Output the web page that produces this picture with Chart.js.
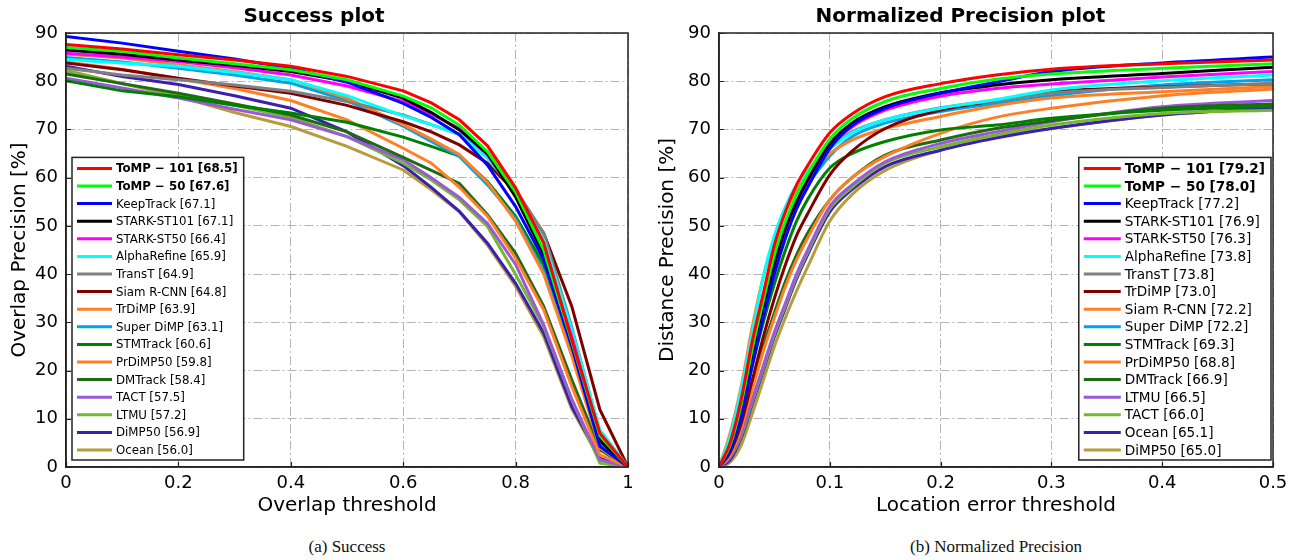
<!DOCTYPE html>
<html>
<head>
<meta charset="utf-8">
<script src="https://cdn.jsdelivr.net/npm/chart.js@4.4.1/dist/chart.umd.min.js"></script>
<style>
  body { margin:0; width:1297px; height:560px; background:#fff; position:relative; overflow:hidden; }
  .box { position:absolute; top:0; height:525px; }
  .cap { position:absolute; top:537px; font-family:"Liberation Serif","Times New Roman",serif; font-size:17px; color:#111; transform:translateX(-50%); white-space:nowrap; }
</style>
</head>
<body>
<div class="box" style="left:0;width:648px"><canvas id="succ"></canvas></div>
<div class="box" style="left:648px;width:649px"><canvas id="prec"></canvas></div>
<div class="cap" style="left:347px">(a) Success</div>
<div class="cap" style="left:996px">(b) Normalized Precision</div>
<script>
// colours go by rank in the legend, same for both plots
let rankColors = ['#ff0000', '#00ff00', '#0000ff', '#000000', '#ff00ff', '#00ffff', '#808080', '#800000',
  '#ff7f27', '#00a2e8', '#008000', '#ff7f27', '#1e6b14', '#9b59d8', '#73b82e', '#3a1fb4', '#b59d3d'];

// --- success plot ---
let overlapThresholds = [0, 0.1, 0.2, 0.3, 0.4, 0.5, 0.6, 0.65, 0.7, 0.75, 0.8, 0.85, 0.9, 0.95, 1];
let successTrackers = ['ToMP \u2212 101', 'ToMP \u2212 50', 'KeepTrack', 'STARK-ST101', 'STARK-ST50', 'AlphaRefine',
  'TransT', 'Siam R-CNN', 'TrDiMP', 'Super DiMP', 'STMTrack', 'PrDiMP50', 'DMTrack', 'TACT', 'LTMU', 'DiMP50', 'Ocean'];
let successAUC = [68.5, 67.6, 67.1, 67.1, 66.4, 65.9, 64.9, 64.8, 63.9, 63.1, 60.6, 59.8, 58.4, 57.5, 57.2, 56.9, 56.0];
let successCurves = [
  [87.6, 86.7, 85.5, 84.4, 83.1, 81.0, 78.0, 75.5, 72.0, 66.6, 57.9, 46.5, 26.4, 7.0, 0],
  [87.0, 86.2, 84.8, 83.6, 82.4, 80.3, 76.9, 74.5, 70.9, 65.4, 57.0, 45.0, 26.0, 6.5, 0],
  [89.3, 87.9, 86.2, 84.6, 82.7, 79.8, 75.4, 72.5, 68.9, 62.6, 54.0, 43.0, 25.0, 4.3, 0],
  [86.5, 85.6, 84.4, 83.3, 82.0, 80.0, 76.5, 73.5, 69.9, 65.0, 56.0, 44.0, 26.0, 5.5, 0],
  [85.8, 85.0, 84.1, 82.8, 81.3, 79.0, 75.8, 73.2, 70.2, 64.7, 56.5, 44.5, 27.0, 6.0, 0],
  [84.5, 83.8, 83.1, 81.8, 80.3, 77.0, 72.8, 71.0, 69.0, 64.0, 57.0, 47.1, 28.4, 7.7, 0],
  [82.7, 81.3, 80.3, 79.2, 77.9, 75.8, 73.0, 71.0, 69.0, 64.5, 57.5, 48.5, 29.0, 7.0, 0],
  [83.8, 82.4, 80.6, 79.0, 77.5, 75.0, 71.6, 69.5, 66.8, 63.0, 57.0, 48.5, 33.3, 11.9, 0],
  [85.6, 84.8, 83.4, 82.0, 80.3, 76.5, 71.0, 68.0, 64.8, 59.0, 51.0, 40.0, 23.0, 4.0, 0],
  [84.9, 84.0, 82.7, 81.3, 79.6, 76.0, 70.7, 67.5, 64.4, 58.5, 51.5, 40.5, 23.5, 4.5, 0],
  [80.1, 78.0, 76.8, 75.0, 73.4, 71.5, 68.4, 66.5, 64.5, 59.2, 52.0, 41.9, 24.0, 5.0, 0],
  [84.0, 82.5, 80.5, 78.5, 76.0, 72.0, 66.1, 63.0, 58.0, 52.0, 43.3, 32.6, 16.7, 2.5, 0],
  [81.5, 79.5, 77.5, 75.3, 73.0, 69.5, 64.2, 61.5, 58.8, 52.3, 44.3, 33.3, 18.1, 3.6, 0],
  [80.6, 78.6, 76.5, 74.2, 72.0, 68.5, 63.7, 60.0, 55.9, 50.5, 42.0, 29.5, 14.0, 1.5, 0],
  [82.0, 79.5, 77.3, 75.0, 72.5, 68.5, 63.0, 59.5, 55.4, 49.9, 39.9, 29.1, 14.0, 0.8, 0],
  [83.1, 81.0, 79.3, 77.0, 74.4, 69.5, 62.5, 58.0, 53.0, 46.4, 38.1, 27.8, 12.5, 1.8, 0],
  [82.3, 79.5, 76.8, 73.5, 70.6, 66.5, 61.6, 57.5, 52.9, 46.0, 37.5, 27.0, 12.0, 1.5, 0]
];

// --- normalized precision plot ---
let locationThresholds = [0, 0.01, 0.02, 0.03, 0.04, 0.05, 0.06, 0.07, 0.08, 0.1, 0.12, 0.15, 0.2, 0.25, 0.3, 0.4, 0.5];
let precisionTrackers = ['ToMP \u2212 101', 'ToMP \u2212 50', 'KeepTrack', 'STARK-ST101', 'STARK-ST50', 'AlphaRefine',
  'TransT', 'TrDiMP', 'Siam R-CNN', 'Super DiMP', 'STMTrack', 'PrDiMP50', 'DMTrack', 'LTMU', 'TACT', 'Ocean', 'DiMP50'];
let precisionScores = [79.2, 78.0, 77.2, 76.9, 76.3, 73.8, 73.8, 73.0, 72.2, 72.2, 69.3, 68.8, 66.9, 66.5, 66.0, 65.1, 65.0];
let precisionCurves = [
  [0, 5.0, 14.0, 26.0, 36.0, 46.0, 53.0, 58.5, 62.5, 69.3, 73.2, 76.8, 79.5, 81.3, 82.5, 83.6, 84.4],
  [0, 4.5, 13.0, 24.5, 34.5, 44.0, 51.0, 56.5, 60.8, 68.0, 72.2, 75.8, 78.5, 80.4, 81.5, 82.7, 83.6],
  [0, 3.5, 10.5, 21.0, 31.0, 40.0, 47.5, 53.5, 58.0, 66.0, 70.8, 74.4, 77.5, 79.8, 82.0, 83.8, 85.0],
  [0, 4.0, 12.0, 23.0, 33.0, 42.0, 49.5, 55.0, 59.5, 67.0, 71.3, 74.7, 77.6, 79.2, 80.3, 81.6, 82.9],
  [0, 4.0, 11.5, 22.0, 32.0, 41.0, 48.5, 54.0, 58.5, 66.3, 70.5, 74.0, 76.9, 78.5, 79.4, 80.9, 82.0],
  [0, 6.3, 16.0, 27.7, 39.5, 48.0, 54.0, 58.5, 61.5, 66.0, 69.3, 72.0, 74.4, 76.2, 78.2, 80.1, 81.3],
  [0, 4.0, 12.0, 23.0, 33.0, 42.0, 49.5, 55.0, 59.0, 66.0, 69.5, 72.0, 74.5, 76.0, 77.5, 78.7, 79.5],
  [0, 3.0, 9.0, 18.0, 27.0, 35.0, 42.0, 48.0, 52.5, 60.6, 65.5, 70.2, 74.0, 76.0, 77.8, 78.8, 79.5],
  [0, 7.0, 16.7, 29.0, 39.5, 47.0, 53.0, 57.5, 60.5, 65.0, 67.8, 70.2, 72.7, 74.9, 76.5, 77.8, 78.9],
  [0, 5.0, 14.0, 25.0, 35.0, 43.5, 50.0, 55.0, 58.5, 64.5, 68.5, 71.3, 73.7, 75.4, 77.0, 79.2, 80.3],
  [0, 4.0, 11.0, 21.0, 30.0, 38.0, 45.0, 51.0, 55.5, 62.0, 65.0, 67.5, 69.9, 70.9, 72.3, 74.0, 74.8],
  [0, 2.5, 8.0, 16.0, 24.0, 31.0, 37.5, 43.0, 47.5, 55.4, 60.0, 64.4, 69.2, 72.5, 74.4, 77.0, 78.4],
  [0, 3.0, 9.0, 17.0, 25.0, 32.0, 38.5, 44.0, 48.5, 55.4, 60.0, 64.7, 67.8, 70.2, 71.8, 74.4, 75.3],
  [0, 2.0, 7.0, 14.0, 21.0, 28.0, 34.0, 40.0, 45.0, 54.0, 58.5, 63.3, 67.1, 69.5, 71.6, 74.7, 76.0],
  [0, 2.0, 6.5, 13.5, 20.5, 27.5, 33.5, 39.5, 44.5, 53.5, 58.0, 63.0, 66.4, 68.9, 70.9, 73.3, 74.0],
  [0, 1.5, 6.0, 13.0, 20.0, 27.0, 33.0, 39.0, 44.0, 52.9, 57.5, 62.3, 65.7, 68.2, 70.2, 73.0, 74.5],
  [0, 1.0, 4.5, 11.0, 18.0, 25.0, 31.0, 36.5, 41.5, 51.0, 56.5, 61.5, 65.7, 68.5, 70.2, 73.0, 74.3]
];

let FONT = 'DejaVu Sans';

// box around the plot area (matplotlib spines) plus small inward ticks
let frame = {
  id: 'frame',
  afterDatasetsDraw(chart) {
    let a = chart.chartArea, c = chart.ctx;
    c.save();
    c.strokeStyle = '#222';
    c.lineWidth = 1.2;
    c.beginPath();
    chart.scales.x.ticks.forEach(t => {
      let px = Math.round(chart.scales.x.getPixelForValue(t.value)) + 0.5;
      c.moveTo(px, a.bottom); c.lineTo(px, a.bottom - 5);
    });
    chart.scales.y.ticks.forEach(t => {
      let py = Math.round(chart.scales.y.getPixelForValue(t.value)) + 0.5;
      c.moveTo(a.left, py); c.lineTo(a.left + 5, py);
    });
    c.stroke();
    c.lineWidth = 1.5;
    c.strokeRect(a.left, a.top, a.right - a.left, a.bottom - a.top);
    c.restore();
  }
};

// legend drawn inside the axes with a border, first two rows bold
let boxLegend = {
  id: 'boxLegend',
  afterDraw(chart, args, o) {
    let c = chart.ctx, a = chart.chartArea;
    let sets = chart.data.datasets;
    let step = 17.6;
    c.save();
    let w = 0;
    sets.forEach((d, i) => {
      c.font = (i < 2 ? 'bold ' : '') + o.size + 'px "' + FONT + '"';
      w = Math.max(w, c.measureText(d.label).width);
    });
    let bw = 5 + o.sample + 4 + w + 6;
    let bh = (sets.length - 1) * step + 21;
    let left = o.side == 'left' ? a.left + 6 : a.right - 2 - bw;
    let top = a.bottom - 7 - bh;
    c.fillStyle = '#fff';
    c.fillRect(left, top, bw, bh);
    c.strokeStyle = '#222';
    c.lineWidth = 1.5;
    c.strokeRect(left, top, bw, bh);
    sets.forEach((d, i) => {
      let y = top + 11 + i * step;
      c.strokeStyle = d.borderColor;
      c.lineWidth = 3;
      c.beginPath();
      c.moveTo(left + 5, y);
      c.lineTo(left + 5 + o.sample, y);
      c.stroke();
      c.font = (i < 2 ? 'bold ' : '') + o.size + 'px "' + FONT + '"';
      c.fillStyle = '#000';
      c.textBaseline = 'middle';
      c.fillText(d.label, left + 5 + o.sample + 4, y + 1);
    });
    c.restore();
  }
};

function makePlot(id, title, xTitle, yTitle, xs, xMax, xStep, names, scores, curves, smooth, yWidth, padRight, legend) {
  let datasets = names.map((n, i) => ({
    label: n + ' [' + scores[i].toFixed(1) + ']',
    data: xs.map((x, j) => ({ x: x, y: curves[i][j] })),
    borderColor: rankColors[i],
    backgroundColor: rankColors[i],
    borderWidth: 3,
    pointRadius: 0,
    fill: false,
    cubicInterpolationMode: smooth ? 'monotone' : 'default',
    tension: 0
  }));
  let gridStyle = { color: '#b4b4b4', lineWidth: 1, drawTicks: false };
  return new Chart(document.getElementById(id), {
    type: 'line',
    data: { datasets: datasets },
    options: {
      responsive: true,
      maintainAspectRatio: false,
      animation: false,
      layout: { padding: { right: padRight, left: 0, top: 0, bottom: 0 } },
      plugins: {
        legend: { display: false },
        tooltip: { enabled: false },
        title: {
          display: true, text: title, color: '#000',
          font: { family: FONT, size: 20, weight: 'bold' },
          padding: { top: 5, bottom: 4 }
        },
        boxLegend: legend
      },
      scales: {
        x: {
          type: 'linear', min: 0, max: xMax,
          grid: gridStyle,
          border: { display: true, color: '#222', width: 1.5, dash: [9, 3, 2, 3] },
          ticks: {
            stepSize: xStep, color: '#000', padding: 6, font: { family: FONT, size: 18 },
            callback: (v) => String(Number(v.toFixed(2)))
          },
          title: { display: true, text: xTitle, color: '#000', font: { family: FONT, size: 20 }, padding: { top: 0, bottom: 7 } },
          afterFit: (s) => { s.height = 58; }
        },
        y: {
          min: 0, max: 90,
          grid: gridStyle,
          border: { display: true, color: '#222', width: 1.5, dash: [9, 3, 2, 3] },
          ticks: { stepSize: 10, color: '#000', padding: 8, font: { family: FONT, size: 18 } },
          title: { display: true, text: yTitle, color: '#000', font: { family: FONT, size: 20 }, padding: { top: 8, bottom: 0 } },
          afterFit: (s) => { s.width = yWidth; }
        }
      }
    },
    plugins: [frame, boxLegend]
  });
}

makePlot('succ', 'Success plot', 'Overlap threshold', 'Overlap Precision [%]',
  overlapThresholds, 1, 0.2, successTrackers, successAUC, successCurves, false, 66, 20,
  { side: 'left', size: 11.8, sample: 35 });
makePlot('prec', 'Normalized Precision plot', 'Location error threshold', 'Distance Precision [%]',
  locationThresholds, 0.5, 0.1, precisionTrackers, precisionScores, precisionCurves, true, 71, 24,
  { side: 'right', size: 13.6, sample: 37 });
</script>
</body>
</html>
